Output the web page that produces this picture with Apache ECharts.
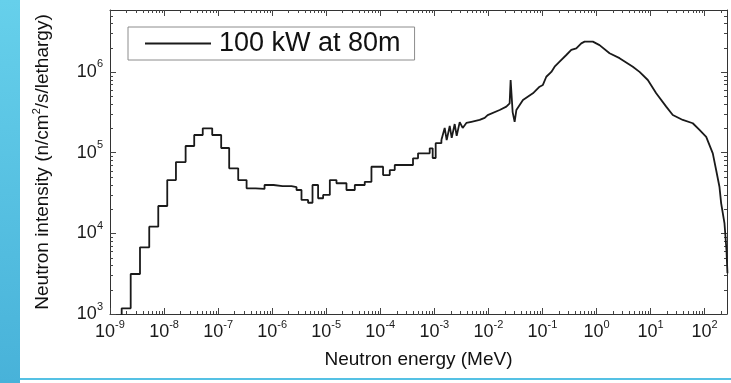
<!DOCTYPE html>
<html><head><meta charset="utf-8">
<script src="https://cdn.jsdelivr.net/npm/echarts@6/dist/echarts.min.js"></script>
<style>html,body{margin:0;padding:0;background:#fff}#c{width:731px;height:383px}</style>
</head><body><div id="c"></div>
<script>
const seriesName = '100 kW at 80m';
const xAxisTitle = 'Neutron energy (MeV)';
const yAxisTitle = 'Neutron intensity (n/cm{sup|2}/s/lethargy)';
const xRange = [1e-9, 260];
const yRange = [1e3, 5.85e6];
const xTickValues = [1e-9, 1e-8, 1e-7, 1e-6, 1e-5, 1e-4, 1e-3, 1e-2, 1e-1, 1e0, 1e1, 1e2];
const yTickValues = [1e3, 1e4, 1e5, 1e6];

// Histogram (low-energy) part: bin left edges in MeV and intensities
const binEdges = [1e-9, 1.644e-9, 2.415e-9, 3.589e-9, 5.321e-9, 7.816e-9, 1.146e-8, 1.660e-8, 2.506e-8, 3.614e-8,
  5.2e-8, 7.78e-8, 1.140e-7, 1.603e-7, 2.355e-7, 3.365e-7, 4.93e-7, 7.23e-7, 1.062e-6, 1.556e-6,
  2.286e-6, 2.825e-6, 3.49e-6, 4.62e-6, 5.58e-6, 7.08e-6, 8.77e-6, 1.167e-5, 1.549e-5, 2.371e-5,
  3.381e-5, 5.164e-5, 6.871e-5, 1.127e-4, 1.500e-4, 1.854e-4, 4.036e-4, 5.0e-4, 8.22e-4, 9.33e-4,
  1.06e-3, 1.352e-3];
const binValues = [700, 1177, 3130, 6700, 12080, 21800, 45700, 76400, 120800, 165300,
  200000, 165300, 114000, 63800, 45700, 36100, 35500, 39700, 38500, 38500,
  37400, 34400, 25900, 23900, 39700, 27200, 29900, 45700, 41700, 34400,
  39700, 43500, 66800, 52700, 60800, 70200, 84900, 97900, 113000, 85700,
  131000, 143000];

// Fine (high-energy) part: energies in MeV and intensities
const fineEnergy = [1.352e-3, 1.556e-3, 1.694e-3, 1.928e-3, 2.099e-3, 2.382e-3, 2.594e-3, 2.951e-3, 3.350e-3, 3.917e-3,
  4.853e-3, 6.902e-3, 8.551e-3, 9.705e-3, 1.618e-2, 2.153e-2, 2.477e-2, 2.582e-2, 2.812e-2, 3.062e-2,
  3.296e-2, 4.365e-2, 6.668e-2, 8.872e-2, 0.1021, 0.1180, 0.1462, 0.1683, 0.2080, 0.2767,
  0.3420, 0.4236, 0.5236, 0.6026, 0.8570, 1.140, 1.746, 2.673, 4.710, 6.266,
  8.913, 12.74, 19.50, 25.82, 39.54, 60.53, 80.54, 107.2, 141.9, 163.7,
  188.4, 202.8, 233.3, 254.1, 265];
const fineValues = [1.43e5, 2.02e5, 1.43e5, 2.14e5, 1.52e5, 2.26e5, 1.61e5, 2.39e5, 2.02e5, 2.33e5,
  2.41e5, 2.54e5, 2.69e5, 2.92e5, 3.37e5, 3.71e5, 4.08e5, 7.94e5, 3.18e5, 2.41e5,
  3.37e5, 4.49e5, 5.43e5, 6.56e5, 6.89e5, 8.71e5, 1.00e6, 1.16e6, 1.34e6, 1.62e6,
  1.87e6, 1.96e6, 2.26e6, 2.37e6, 2.37e6, 2.15e6, 1.70e6, 1.48e6, 1.16e6, 1.00e6,
  7.94e5, 5.43e5, 3.71e5, 2.92e5, 2.54e5, 2.31e5, 1.91e5, 1.57e5, 9.80e4, 6.08e4,
  3.78e4, 2.35e4, 1.34e4, 6.2e3, 3.2e3];

const FONT = 'Liberation Sans';
const chart = echarts.init(document.getElementById('c'), null, {renderer: 'canvas'});

function powLabel(v) {
  const l = Math.log10(v);
  const n = Math.round(l);
  if (Math.abs(l - n) > 1e-6) return '';
  return '10{sup|' + n + '}';
}
const labelRich = {sup: {fontSize: 11, verticalAlign: 'top', lineHeight: 12, fontFamily: FONT, color: '#1a1a1a'}};

// minor tick positions (2..9 x 10^n) within axis ranges
function minorTicks(range) {
  const out = [];
  for (let n = Math.floor(Math.log10(range[0])); n <= Math.ceil(Math.log10(range[1])); n++) {
    for (let k = 2; k <= 9; k++) {
      const v = k * Math.pow(10, n);
      if (v > range[0] && v < range[1]) out.push(v);
    }
  }
  return out;
}
const xMinor = minorTicks(xRange);
const yMinor = minorTicks(yRange);

const axisLineStyle = {color: '#333', width: 1};
const tickStyle = {color: '#444', width: 1};

const option = {
  backgroundColor: '#fff',
  animation: false,
  graphic: [
    {type: 'rect', left: 0, top: 0, shape: {width: 20, height: 383}, z: 100,
      style: {fill: new echarts.graphic.LinearGradient(0, 0, 0, 1, [{offset: 0, color: '#66d0eb'}, {offset: 1, color: '#48b2d9'}])}},
    {type: 'rect', left: 20, top: 378, shape: {width: 711, height: 2}, z: 100, style: {fill: '#55c1e4'}}
  ],
  grid: {left: 110, right: 4, top: 10, bottom: 69},
  legend: {
    data: [seriesName], left: 128, top: 27, padding: [3, 14, 3, 17],
    icon: 'rect', itemWidth: 66, itemHeight: 2,
    itemStyle: {color: '#1a1a1a'},
    borderColor: '#8c8c8c', borderWidth: 1, backgroundColor: '#fff',
    textStyle: {fontSize: 27, color: '#111', fontFamily: FONT, padding: [0, 0, 0, 3]}
  },
  xAxis: [{
    type: 'log', logBase: 10, min: xRange[0], max: xRange[1],
    position: 'bottom',
    name: xAxisTitle, nameLocation: 'middle', nameGap: 33,
    nameTextStyle: {fontSize: 19, color: '#111', fontFamily: FONT},
    axisLine: {lineStyle: axisLineStyle},
    axisTick: {inside: true, length: 6, lineStyle: tickStyle, customValues: xTickValues},
    splitLine: {show: false},
    axisLabel: {formatter: powLabel, customValues: xTickValues, margin: 5, fontSize: 18, lineHeight: 26, color: '#1a1a1a', fontFamily: FONT, rich: labelRich}
  }, {
    type: 'log', logBase: 10, min: xRange[0], max: xRange[1],
    position: 'top',
    axisLine: {lineStyle: axisLineStyle},
    axisTick: {inside: true, length: 6, lineStyle: tickStyle, customValues: xTickValues},
    splitLine: {show: false},
    axisLabel: {show: false}
  }],
  yAxis: [{
    type: 'log', logBase: 10, min: yRange[0], max: yRange[1],
    position: 'left',
    name: yAxisTitle, nameLocation: 'middle', nameGap: 55, nameRotate: 90,
    nameTextStyle: {fontSize: 19, color: '#111', fontFamily: FONT, lineHeight: 24,
      rich: {sup: {fontSize: 11, verticalAlign: 'top', lineHeight: 12, fontFamily: FONT, color: '#111'}}},
    axisLine: {lineStyle: axisLineStyle},
    axisTick: {inside: true, length: 6, lineStyle: tickStyle, customValues: yTickValues},
    splitLine: {show: false},
    axisLabel: {formatter: powLabel, customValues: yTickValues, margin: 7, fontSize: 18, lineHeight: 26, color: '#1a1a1a', fontFamily: FONT, rich: labelRich}
  }, {
    type: 'log', logBase: 10, min: yRange[0], max: yRange[1],
    position: 'right',
    axisLine: {lineStyle: axisLineStyle},
    axisTick: {inside: true, length: 6, lineStyle: tickStyle, customValues: yTickValues},
    splitLine: {show: false},
    axisLabel: {show: false}
  }],
  series: [
    {
      name: seriesName, type: 'line', step: 'end', symbol: 'none', clip: true,
      xAxisIndex: 0, yAxisIndex: 0,
      lineStyle: {color: '#1a1a1a', width: 1.8},
      itemStyle: {color: '#1a1a1a'},
      data: binEdges.map((e, i) => [e, binValues[i]])
    },
    {
      name: seriesName, type: 'line', symbol: 'none', clip: true,
      xAxisIndex: 0, yAxisIndex: 0,
      lineStyle: {color: '#1a1a1a', width: 1.8},
      itemStyle: {color: '#1a1a1a'},
      data: fineEnergy.map((e, i) => [e, fineValues[i]])
    },
    {
      type: 'custom', silent: true, xAxisIndex: 0, yAxisIndex: 0, clip: false, z: 1,
      data: [[1, 1e4]],
      renderItem: function (params, api) {
        const lb = api.coord([xRange[0], yRange[0]]);
        const rt = api.coord([xRange[1], yRange[1]]);
        const children = [];
        const st = {stroke: '#444', lineWidth: 1};
        const L = 3;
        xMinor.forEach(function (v) {
          const px = Math.round(api.coord([v, yRange[0]])[0]) + 0.5;
          children.push({type: 'line', shape: {x1: px, y1: lb[1], x2: px, y2: lb[1] - L}, style: st});
          children.push({type: 'line', shape: {x1: px, y1: rt[1], x2: px, y2: rt[1] + L}, style: st});
        });
        yMinor.forEach(function (v) {
          const py = Math.round(api.coord([xRange[0], v])[1]) + 0.5;
          children.push({type: 'line', shape: {x1: lb[0], y1: py, x2: lb[0] + L, y2: py}, style: st});
          children.push({type: 'line', shape: {x1: rt[0], y1: py, x2: rt[0] - L, y2: py}, style: st});
        });
        return {type: 'group', children: children};
      }
    }
  ]
};
chart.setOption(option);
</script>
</body></html>
